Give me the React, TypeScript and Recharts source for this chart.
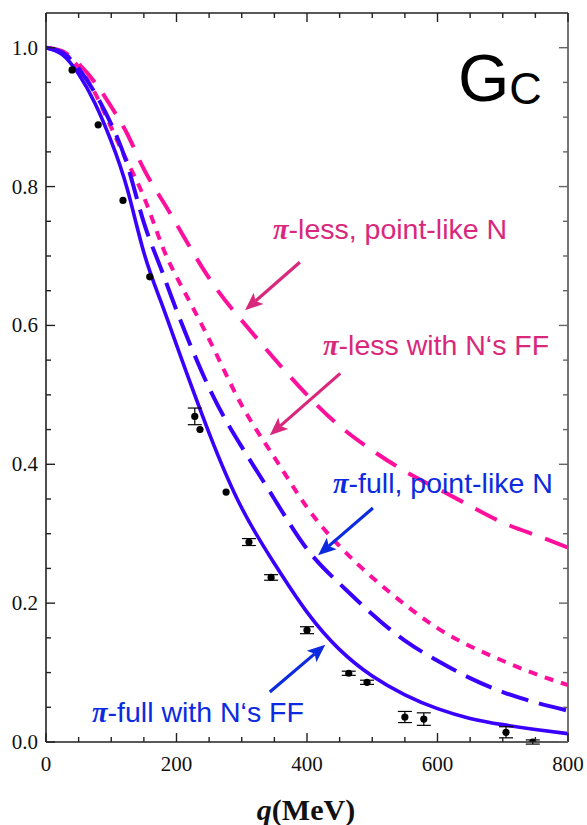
import React from 'react'
import { ComposedChart, Line, Scatter, ErrorBar, XAxis, YAxis, ReferenceLine } from 'recharts'

// q grid (MeV) shared by the four theory curves
const Q_GRID = [0, 25, 50, 75, 100, 125, 150, 175, 200, 250, 300, 350, 400, 450, 500, 550, 600, 650, 700, 750, 800]
const PI_FULL_FF = [1.0, 0.99, 0.962, 0.92, 0.865, 0.795, 0.705, 0.637, 0.572, 0.445, 0.337, 0.257, 0.187, 0.133, 0.095, 0.068, 0.048, 0.034, 0.025, 0.018, 0.012]
const PI_FULL_POINT = [1.0, 0.993, 0.97, 0.935, 0.89, 0.83, 0.748, 0.685, 0.622, 0.51, 0.425, 0.35, 0.278, 0.228, 0.184, 0.146, 0.117, 0.092, 0.072, 0.057, 0.045]
const PI_LESS_FF = [1.0, 0.993, 0.972, 0.935, 0.885, 0.835, 0.785, 0.722, 0.67, 0.58, 0.485, 0.41, 0.338, 0.282, 0.237, 0.198, 0.164, 0.138, 0.117, 0.098, 0.082]
const PI_LESS_POINT = [1.0, 0.995, 0.977, 0.95, 0.915, 0.875, 0.825, 0.785, 0.746, 0.668, 0.607, 0.552, 0.5, 0.455, 0.42, 0.39, 0.365, 0.34, 0.316, 0.298, 0.28]

// experimental points
const EXP_Q = [40, 80, 118, 159, 228, 236, 276, 311, 345, 400, 464, 492, 550, 579, 705, 746]
const EXP_G = [0.968, 0.889, 0.78, 0.67, 0.469, 0.45, 0.36, 0.288, 0.237, 0.161, 0.099, 0.086, 0.036, 0.033, 0.014, 0.0]
const EXP_ERR = [0, 0, 0, 0, 0.012, 0, 0, 0.005, 0.004, 0.005, 0.003, 0.003, 0.008, 0.009, 0.008, 0.003]

const X_TICKS = [0, 50, 100, 150, 200, 250, 300, 350, 400, 450, 500, 550, 600, 650, 700, 750, 800]
const Y_TICKS = [0, 0.05, 0.1, 0.15, 0.2, 0.25, 0.3, 0.35, 0.4, 0.45, 0.5, 0.55, 0.6, 0.65, 0.7, 0.75, 0.8, 0.85, 0.9, 0.95, 1.0]

const PINK = '#ff0f9c'
const BLUE = '#3a00ff'
const PINK_TEXT = '#d9287c'
const BLUE_TEXT = '#0c2be0'
const FRAME = '#222'

// plot box (px) and domains, shared by the chart and the frame overlay
const W = 587
const H = 825
const LEFT = 46
const RIGHT = 568
const TOP = 13
const BOTTOM = 742
const X_MAX = 800
const Y_MAX = 1.05

const sx = (q: number) => LEFT + (q / X_MAX) * (RIGHT - LEFT)
const sy = (g: number) => BOTTOM - (g / Y_MAX) * (BOTTOM - TOP)

const curve = (values: number[]) => Q_GRID.map((q, i) => ({ q, g: values[i] }))
const expData = EXP_Q.map((q, i) => ({ q, g: EXP_G[i], err: EXP_ERR[i] }))

const isMajor = (v: number, step: number) => Math.abs(v / step - Math.round(v / step)) < 1e-6

const arrow = (color: string) => (props: any) => {
  const { x1, y1, x2, y2 } = props
  const ang = Math.atan2(y2 - y1, x2 - x1)
  const len = 18
  const half = 7.5
  const bx = x2 - len * Math.cos(ang)
  const by = y2 - len * Math.sin(ang)
  const px = -Math.sin(ang) * half
  const py = Math.cos(ang) * half
  const nx = x2 - (len - 4) * Math.cos(ang)
  const ny = y2 - (len - 4) * Math.sin(ang)
  return (
    <g>
      <line x1={x1} y1={y1} x2={nx} y2={ny} stroke={color} strokeWidth={3.2} />
      <polygon points={`${x2},${y2} ${bx + px},${by + py} ${nx},${ny} ${bx - px},${by - py}`} fill={color} />
    </g>
  )
}

const Pi = () => (
  <tspan fontFamily="Liberation Serif" fontWeight="bold" fontStyle="italic">π</tspan>
)

// frame with inward ticks on all four sides, plus the tick labels
const Frame = () => (
  <g>
    <line x1={LEFT} x2={RIGHT} y1={TOP} y2={TOP} stroke={FRAME} strokeWidth={1.6} />
    <line x1={LEFT} x2={RIGHT} y1={BOTTOM} y2={BOTTOM} stroke={FRAME} strokeWidth={1.6} />
    <line x1={LEFT} x2={LEFT} y1={TOP} y2={BOTTOM} stroke={FRAME} strokeWidth={1.6} />
    <line x1={RIGHT} x2={RIGHT} y1={TOP} y2={BOTTOM} stroke="#666" strokeWidth={1.8} />
    {X_TICKS.map((q) => {
      const major = isMajor(q, 200)
      const len = major ? 9 : 5
      const x = sx(q)
      return (
        <g key={`x${q}`}>
          <line x1={x} x2={x} y1={BOTTOM} y2={BOTTOM - len} stroke={FRAME} strokeWidth={1.4} />
          <line x1={x} x2={x} y1={TOP} y2={TOP + len} stroke={FRAME} strokeWidth={1.4} />
          {major && (
            <text x={x} y={BOTTOM + 29} textAnchor="middle" fontFamily="Liberation Serif" fontSize={21} fill="#111">
              {q}
            </text>
          )}
        </g>
      )
    })}
    {Y_TICKS.map((g) => {
      const major = isMajor(g, 0.2)
      const len = major ? 9 : 5
      const y = sy(g)
      return (
        <g key={`y${g}`}>
          <line x1={LEFT} x2={LEFT + len} y1={y} y2={y} stroke={FRAME} strokeWidth={1.4} />
          <line x1={RIGHT} x2={RIGHT - len} y1={y} y2={y} stroke="#666" strokeWidth={1.4} />
          {major && (
            <text x={LEFT - 8} y={y + 7} textAnchor="end" fontFamily="Liberation Serif" fontSize={21} fill="#111">
              {g.toFixed(1)}
            </text>
          )}
        </g>
      )
    })}
  </g>
)

const App = () => {
  return (
    <div style={{ position: 'absolute', left: 0, top: 0, width: W, height: H }}>
      <ComposedChart width={W} height={H} margin={{ top: TOP, right: W - RIGHT, bottom: 0, left: 0 }}>
        <XAxis dataKey="q" type="number" domain={[0, X_MAX]} ticks={X_TICKS} height={H - BOTTOM} tick={false} tickLine={false} axisLine={false} allowDataOverflow />
        <YAxis type="number" domain={[0, Y_MAX]} ticks={Y_TICKS} width={LEFT} tick={false} tickLine={false} axisLine={false} allowDataOverflow />
        <Line data={curve(PI_LESS_POINT)} dataKey="g" type="natural" stroke={PINK} strokeWidth={4} strokeDasharray="24 14" dot={false} activeDot={false} isAnimationActive={false} />
        <Line data={curve(PI_LESS_FF)} dataKey="g" type="natural" stroke={PINK} strokeWidth={4} strokeDasharray="9 8" dot={false} activeDot={false} isAnimationActive={false} />
        <Line data={curve(PI_FULL_POINT)} dataKey="g" type="natural" stroke={BLUE} strokeWidth={4} strokeDasharray="28 11" dot={false} activeDot={false} isAnimationActive={false} />
        <Line data={curve(PI_FULL_FF)} dataKey="g" type="natural" stroke={BLUE} strokeWidth={3.6} dot={false} activeDot={false} isAnimationActive={false} />
        <Scatter
          data={expData}
          dataKey="g"
          fill="#000"
          isAnimationActive={false}
          shape={(p: any) => <circle cx={p.cx} cy={p.cy} r={3.6} fill="#000" />}
        >
          <ErrorBar dataKey="err" direction="y" width={7} stroke="#000" strokeWidth={1.2} />
        </Scatter>
        <ReferenceLine segment={[{ x: 389, y: 0.691 }, { x: 305, y: 0.622 }]} ifOverflow="visible" shape={arrow(PINK_TEXT)} />
        <ReferenceLine segment={[{ x: 451, y: 0.531 }, { x: 343, y: 0.442 }]} ifOverflow="visible" shape={arrow(PINK_TEXT)} />
        <ReferenceLine segment={[{ x: 501, y: 0.337 }, { x: 417, y: 0.269 }]} ifOverflow="visible" shape={arrow(BLUE_TEXT)} />
        <ReferenceLine segment={[{ x: 343, y: 0.072 }, { x: 428, y: 0.14 }]} ifOverflow="visible" shape={arrow(BLUE_TEXT)} />
      </ComposedChart>
      <svg width={W} height={H} style={{ position: 'absolute', left: 0, top: 0, pointerEvents: 'none' }}>
        <Frame />
        <text x={458} y={101} fontFamily="Liberation Sans" fontSize={66} fill="#000">
          G<tspan fontSize={45} dy={3}>C</tspan>
        </text>
        <g fontFamily="Liberation Sans" fontSize={28.5}>
          <text x={273} y={239} fill={PINK_TEXT}><Pi />-less, point-like N</text>
          <text x={323} y={355} fill={PINK_TEXT}><Pi />-less with N‘s FF</text>
          <text x={333} y={493} fill={BLUE_TEXT}><Pi />-full, point-like N</text>
          <text x={92} y={722} fill={BLUE_TEXT}><Pi />-full with N‘s FF</text>
        </g>
        <text x={306} y={820} textAnchor="middle" fontFamily="Liberation Serif" fontWeight="bold" fontSize={30} fill="#111">
          <tspan fontStyle="italic">q</tspan>(MeV)
        </text>
      </svg>
    </div>
  )
}

export default App
